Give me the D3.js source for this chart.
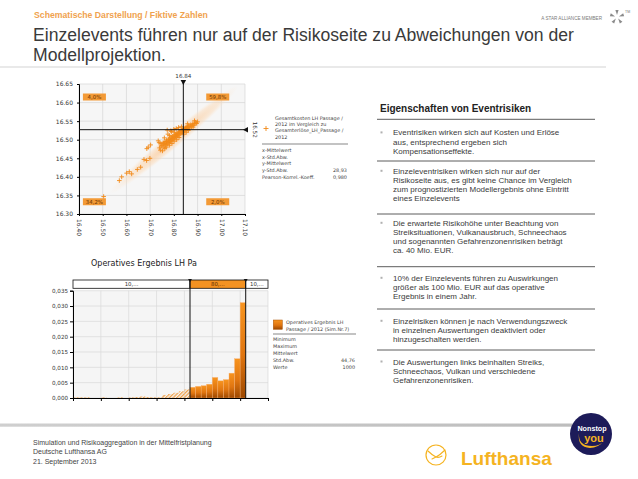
<!DOCTYPE html>
<html><head><meta charset="utf-8">
<script src="https://cdn.jsdelivr.net/npm/d3@7"></script>
<style>body{margin:0;background:#fff}svg{display:block}</style>
</head><body>
<svg id="c" width="638" height="479"></svg>
<script>
// ---------------- DATA ----------------
const subtitle = "Schematische Darstellung / Fiktive Zahlen";
const titleLines = ["Einzelevents führen nur auf der Risikoseite zu Abweichungen von der", "Modellprojektion."];
const footerLines = ["Simulation und Risikoaggregation in der Mittelfristplanung", "Deutsche Lufthansa AG", "21. September 2013"];

const scatterXTicks = [16.40, 16.50, 16.60, 16.70, 16.80, 16.90, 17.00, 17.10];
const scatterYTicks = [16.30, 16.35, 16.40, 16.45, 16.50, 16.55, 16.60, 16.65];
const scatterPoints = [
  [16.504,16.347],[16.570,16.390],[16.580,16.400],[16.601,16.410],[16.612,16.414],[16.622,16.408],
  [16.646,16.420],[16.660,16.426],[16.674,16.447],[16.685,16.444],[16.699,16.450],[16.692,16.480],
  [16.702,16.486],[16.686,16.476],[16.734,16.497],[16.743,16.472],[16.746,16.483],[16.755,16.488],
  [16.769,16.495],[16.772,16.526],[16.787,16.524],[16.740,16.478],[16.752,16.470],[16.745,16.490],
  [16.738,16.492],[16.760,16.505],[16.775,16.515],[16.790,16.522],[16.800,16.528],[16.810,16.530],
  [16.820,16.533],
  [16.750,16.484],[16.755,16.492],[16.758,16.480],[16.760,16.489],[16.763,16.495],[16.765,16.486],
  [16.768,16.491],[16.770,16.499],[16.772,16.488],[16.775,16.494],[16.777,16.501],[16.779,16.492],
  [16.781,16.497],[16.783,16.504],[16.785,16.495],[16.787,16.500],[16.789,16.507],[16.791,16.498],
  [16.793,16.503],[16.795,16.509],[16.797,16.501],[16.799,16.506],[16.801,16.512],[16.803,16.504],
  [16.805,16.509],[16.807,16.514],[16.809,16.507],[16.811,16.512],[16.813,16.517],[16.815,16.510],
  [16.817,16.515],[16.819,16.520],[16.821,16.513],[16.823,16.518],[16.825,16.522],[16.827,16.516],
  [16.829,16.521],[16.831,16.525],[16.833,16.518],[16.835,16.523],[16.837,16.527],[16.839,16.521],
  [16.841,16.526],[16.843,16.530],[16.845,16.524],[16.847,16.528],[16.849,16.532],[16.851,16.527],
  [16.853,16.531],[16.855,16.535],[16.857,16.529],[16.859,16.533],[16.862,16.537],[16.865,16.532],
  [16.868,16.536],[16.871,16.540],[16.874,16.535],[16.877,16.539],[16.880,16.543],[16.884,16.539],
  [16.888,16.543],[16.892,16.547],[16.896,16.544],[16.900,16.548],
  [16.762,16.476],[16.781,16.485],[16.801,16.496],[16.822,16.506],[16.842,16.515],[16.861,16.525],
  [16.881,16.534],[16.782,16.511],[16.802,16.520],[16.832,16.535],[16.858,16.543],[16.887,16.551],
  [16.768,16.480],[16.792,16.490],[16.812,16.500],[16.852,16.520]
];
const markerX = 16.84, markerY = 16.527;
const markerLabels = ["16.84", "16.52"];
const quadrantLabels = ["4,0%", "59,8%", "34,2%", "2,0%"];   // TL, TR, BL, BR
const scatterLegendTitle = ["Gesamtkosten LH Passage /", "2012 im Vergleich zu", "Gesamterlöse_LH_Passage /", "2012"];
const scatterStatNames = ["x-Mittelwert", "x-Std.Abw.", "y-Mittelwert", "y-Std.Abw.", "Pearson-Korrel.-Koeff."];
const scatterStatValues = ["", "", "", "28,93", "0,980"];

const histTitle = "Operatives Ergebnis LH Pa";
const histValues = [
  0.0002,0.0002,0.0002,0,0,0.0002,0,0,0.0002,0,0.0002,0.0003,0.0005,0.0003,0.0002,0.0002,
  0.0010,0.0013,0.0017,0.0022,0.0028,
  0.0035,0.0038,0.0040,0.0045,0.0067,0.0056,0.0060,0.0081,0.0128,0.0311,
  0,0,0,0
];
const histYTicks = [0, 0.005, 0.010, 0.015, 0.020, 0.025, 0.030, 0.035];
const histXTicks = [0, 5, 10, 15, 20, 25, 30, 35];
const histBandEdges = [0, 21, 31, 35];
const histBandLabels = ["10,...", "80,...", "10,..."];
const histLegendTitle = ["Operatives Ergebnis LH", "Passage / 2012 (Sim.Nr.7)"];
const histStatNames = ["Minimum", "Maximum", "Mittelwert", "Std.Abw.", "Werte"];
const histStatValues = ["", "", "", "44,76", "1000"];

const panelHeading = "Eigenschaften von Eventrisiken";
const bullets = [
  ["Eventrisiken wirken sich auf Kosten und Erlöse", "aus, entsprechend ergeben sich", "Kompensationseffekte."],
  ["Einzeleventrisiken wirken sich nur auf der", "Risikoseite aus, es gibt keine Chance im Vergleich", "zum prognostizierten Modellergebnis ohne Eintritt", "eines Einzelevents"],
  ["Die erwartete Risikohöhe unter Beachtung von", "Streiksituationen, Vulkanausbruch, Schneechaos", "und sogenannten Gefahrenzonenrisiken beträgt", "ca. 40 Mio. EUR."],
  ["10% der Einzelevents führen zu Auswirkungen", "größer als 100 Mio. EUR auf das operative", "Ergebnis in einem Jahr."],
  ["Einzelrisiken können je nach Verwendungszweck", "in einzelnen Auswertungen deaktiviert oder", "hinzugeschalten werden."],
  ["Die Auswertungen links beinhalten Streiks,", "Schneechaos, Vulkan und verschiedene", "Gefahrenzonenrisiken."]
];

// ---------------- DRAW ----------------
const svg = d3.select("#c");
const SANS = "'Liberation Sans', Arial, sans-serif";
const CHART = "'DejaVu Sans', Verdana, sans-serif";
const ORANGE = "#f28a1a";
const defs = svg.append("defs");

// header
svg.append("text").attr("x", 34).attr("y", 18).attr("font-family", SANS).attr("font-weight", "bold")
  .attr("font-size", 8.7).attr("fill", "#f0a24e").text(subtitle);
svg.selectAll("text.title").data(titleLines).join("text").attr("class", "title")
  .attr("x", 33).attr("y", (d, i) => 41 + i * 20).attr("font-family", SANS).attr("font-size", 17.6)
  .attr("fill", "#3a3a3a").text(d => d);
svg.append("line").attr("x1", 0).attr("x2", 606).attr("y1", 67).attr("y2", 67).attr("stroke", "#c8c8c8").attr("stroke-width", 0.8);

// star alliance
svg.append("text").attr("x", 602).attr("y", 19.5).attr("text-anchor", "end").attr("font-family", SANS)
  .attr("font-size", 4.6).attr("fill", "#7a7a7a").text("A STAR ALLIANCE MEMBER");
const star = svg.append("g").attr("transform", "translate(617,17)");
d3.range(5).forEach(i => {
  star.append("path").attr("d", "M0,-2 L-1.6,-7 L1.6,-7 Z").attr("fill", "#8a8a8a")
    .attr("transform", `rotate(${i * 72})`);
});
svg.append("text").attr("x", 625).attr("y", 13).attr("font-family", SANS).attr("font-size", 3.5).attr("fill", "#777").text("TM");

// ---------------- SCATTER ----------------
const sx = d3.scaleLinear().domain([16.40, 17.10]).range([79, 245]);
const sy = d3.scaleLinear().domain([16.30, 16.65]).range([214, 84]);
const sg = svg.append("g");
sg.append("rect").attr("x", sx(16.40)).attr("y", sy(16.65)).attr("width", sx(17.10) - sx(16.40))
  .attr("height", sy(16.30) - sy(16.65)).attr("fill", "#f6f6f6");
sg.selectAll("line.gx").data(scatterXTicks).join("line").attr("x1", d => sx(d)).attr("x2", d => sx(d))
  .attr("y1", sy(16.30)).attr("y2", sy(16.65)).attr("stroke", "#d6d6d6").attr("stroke-width", 0.7);
sg.selectAll("line.gy").data(scatterYTicks).join("line").attr("y1", d => sy(d)).attr("y2", d => sy(d))
  .attr("x1", sx(16.40)).attr("x2", sx(17.10)).attr("stroke", "#d6d6d6").attr("stroke-width", 0.7);

// faint density band
const rg = defs.append("radialGradient").attr("id", "band");
rg.append("stop").attr("offset", "0%").attr("stop-color", "#fbc58f").attr("stop-opacity", 0.8);
rg.append("stop").attr("offset", "70%").attr("stop-color", "#fcd9b5").attr("stop-opacity", 0.45);
rg.append("stop").attr("offset", "100%").attr("stop-color", "#fde8d3").attr("stop-opacity", 0);
const cx0 = sx(16.80), cy0 = sy(16.50);
sg.append("ellipse").attr("cx", cx0).attr("cy", cy0).attr("rx", 84).attr("ry", 8)
  .attr("transform", `rotate(-40,${cx0},${cy0})`).attr("fill", "url(#band)");

// points
sg.selectAll("path.pt").data(scatterPoints).join("path").attr("class", "pt")
  .attr("d", d => `M${sx(d[0]) - 2.3},${sy(d[1])}h4.6M${sx(d[0])},${sy(d[1]) - 2.3}v4.6`)
  .attr("stroke", ORANGE).attr("stroke-width", 0.9);

// axes
const xAx = sg.append("g").attr("transform", `translate(0,${sy(16.30)})`)
  .call(d3.axisBottom(sx).tickValues(scatterXTicks).tickSize(2).tickFormat(d3.format(".2f")));
xAx.selectAll("text").attr("transform", "rotate(90)").attr("text-anchor", "start")
  .attr("x", 5).attr("y", 0).attr("dy", "0.35em");
const yAx = sg.append("g").attr("transform", `translate(${sx(16.40)},0)`)
  .call(d3.axisLeft(sy).tickValues(scatterYTicks).tickSize(2).tickFormat(d3.format(".2f")));
[xAx, yAx].forEach(a => {
  a.selectAll("text").attr("font-family", CHART).attr("font-size", 6).attr("fill", "#333");
  a.select(".domain").attr("stroke", "#000").attr("stroke-width", 1);
  a.selectAll(".tick line").attr("stroke", "#000");
});
yAx.selectAll("text").attr("x", -6);

// marker lines
sg.append("line").attr("x1", sx(markerX)).attr("x2", sx(markerX)).attr("y1", sy(16.65) - 3).attr("y2", sy(16.30))
  .attr("stroke", "#111").attr("stroke-width", 1);
sg.append("line").attr("y1", sy(markerY)).attr("y2", sy(markerY)).attr("x1", sx(16.40)).attr("x2", sx(17.10) + 2)
  .attr("stroke", "#111").attr("stroke-width", 1);
sg.append("path").attr("d", `M${sx(markerX) - 2.8},${sy(16.65) - 4}h5.6l-2.8,5z`).attr("fill", "#111");
sg.append("path").attr("d", `M${sx(17.10) + 3},${sy(markerY) - 2.8}v5.6l-5,-2.8z`).attr("fill", "#111");
sg.append("text").attr("x", sx(markerX)).attr("y", sy(16.65) - 6).attr("text-anchor", "middle")
  .attr("font-family", CHART).attr("font-size", 5.6).attr("fill", "#333").text(markerLabels[0]);
sg.append("text").attr("transform", `translate(${sx(17.10) + 7},${sy(markerY)}) rotate(90)`)
  .attr("text-anchor", "middle").attr("dy", "-0.1em").attr("font-family", CHART).attr("font-size", 5.6)
  .attr("fill", "#333").text(markerLabels[1]);

// quadrant labels
const qPos = [[16.465, 16.615], [16.985, 16.615], [16.465, 16.333], [16.985, 16.333]];
quadrantLabels.forEach((t, i) => {
  const px = sx(qPos[i][0]), py = sy(qPos[i][1]);
  sg.append("rect").attr("x", px - 11.5).attr("y", py - 3.5).attr("width", 23).attr("height", 7).attr("fill", "#f39a36");
  sg.append("text").attr("x", px).attr("y", py + 2).attr("text-anchor", "middle").attr("font-family", CHART)
    .attr("font-size", 5.4).attr("fill", "#6a3300").text(t);
});

// scatter legend
sg.append("path").attr("d", "M263.5,128.5h5M266,126v5").attr("stroke", ORANGE).attr("stroke-width", 0.9);
sg.selectAll("text.slt").data(scatterLegendTitle).join("text").attr("class", "slt")
  .attr("x", 275).attr("y", (d, i) => 119.5 + i * 6.4).attr("font-family", CHART).attr("font-size", 4.9)
  .attr("fill", "#444").text(d => d);
sg.append("line").attr("x1", 262).attr("x2", 348).attr("y1", 144).attr("y2", 144).attr("stroke", "#555").attr("stroke-width", 0.7);
scatterStatNames.forEach((n, i) => {
  const y = 151.8 + i * 6.8;
  sg.append("text").attr("x", 262).attr("y", y).attr("font-family", CHART).attr("font-size", 4.9).attr("fill", "#444").text(n);
  sg.append("text").attr("x", 347).attr("y", y).attr("text-anchor", "end").attr("font-family", CHART)
    .attr("font-size", 4.9).attr("fill", "#444").text(scatterStatValues[i]);
});

// ---------------- HISTOGRAM ----------------
const hx = d3.scaleLinear().domain([0, 35]).range([73, 268]);
const hy = d3.scaleLinear().domain([0, 0.035]).range([398, 290.7]);
const hg = svg.append("g");
hg.append("text").attr("x", 91).attr("y", 266).attr("font-family", CHART).attr("font-size", 8)
  .attr("fill", "#222").text(histTitle);
hg.append("rect").attr("x", hx(0)).attr("y", hy(0.035)).attr("width", hx(35) - hx(0)).attr("height", hy(0) - hy(0.035)).attr("fill", "#f5f5f5");
hg.selectAll("line.hgy").data(histYTicks).join("line").attr("x1", hx(0)).attr("x2", hx(35))
  .attr("y1", d => hy(d)).attr("y2", d => hy(d)).attr("stroke", "#d8d8d8").attr("stroke-width", 0.7);
hg.selectAll("line.hgx").data(histXTicks).join("line").attr("y1", hy(0)).attr("y2", hy(0.035))
  .attr("x1", d => hx(d)).attr("x2", d => hx(d)).attr("stroke", "#d8d8d8").attr("stroke-width", 0.7);

const hatch = defs.append("pattern").attr("id", "hatch").attr("patternUnits", "userSpaceOnUse")
  .attr("width", 2.6).attr("height", 2.6).attr("patternTransform", "rotate(45)");
hatch.append("rect").attr("width", 1.3).attr("height", 2.6).attr("fill", "#f0a14a");
const bg = defs.append("linearGradient").attr("id", "barg").attr("x1", 0).attr("y1", 0).attr("x2", 0).attr("y2", 1);
bg.append("stop").attr("offset", "0%").attr("stop-color", "#f7941f");
bg.append("stop").attr("offset", "55%").attr("stop-color", "#e07510");
bg.append("stop").attr("offset", "100%").attr("stop-color", "#9d4800");

hg.selectAll("rect.bar").data(histValues).join("rect").attr("class", "bar")
  .attr("x", (d, i) => hx(i)).attr("width", hx(1) - hx(0)).attr("y", d => hy(d)).attr("height", d => hy(0) - hy(d))
  .attr("fill", (d, i) => (i >= histBandEdges[1] && i < histBandEdges[2]) ? "url(#barg)" : "url(#hatch)")
  .attr("stroke", (d, i) => (i >= histBandEdges[1] && i < histBandEdges[2]) ? "#f7b070" : "none")
  .attr("stroke-width", 0.4);

const hyAx = hg.append("g").attr("transform", `translate(${hx(0)},0)`)
  .call(d3.axisLeft(hy).tickValues(histYTicks).tickSize(3).tickFormat(d => d3.format(".3f")(d).replace(".", ",")));
const hxAx = hg.append("g").attr("transform", `translate(0,${hy(0)})`)
  .call(d3.axisBottom(hx).tickValues(histXTicks).tickSize(3).tickFormat(""));
[hyAx, hxAx].forEach(a => {
  a.selectAll("text").attr("font-family", CHART).attr("font-size", 5.6).attr("fill", "#333");
  a.select(".domain").attr("stroke", "#000").attr("stroke-width", 1);
  a.selectAll(".tick line").attr("stroke", "#000");
});
hyAx.selectAll("text").attr("x", -5);

// band header
const bandTop = 280, bandBot = 288.3;
histBandLabels.forEach((t, i) => {
  const x0 = hx(histBandEdges[i]), x1 = hx(histBandEdges[i + 1]);
  hg.append("rect").attr("x", x0).attr("y", bandTop).attr("width", x1 - x0).attr("height", bandBot - bandTop)
    .attr("fill", i === 1 ? "#f39222" : "#fff").attr("stroke", "#111").attr("stroke-width", 0.8);
  hg.append("text").attr("x", (x0 + x1) / 2).attr("y", bandBot - 2.2).attr("text-anchor", "middle")
    .attr("font-family", CHART).attr("font-size", 5.4).attr("fill", i === 1 ? "#5a2a00" : "#333").text(t);
});
[histBandEdges[1], histBandEdges[2]].forEach(e => {
  hg.append("line").attr("x1", hx(e)).attr("x2", hx(e)).attr("y1", bandTop).attr("y2", hy(0)).attr("stroke", "#111").attr("stroke-width", 1);
  hg.append("path").attr("d", `M${hx(e) - 2},${bandTop - 1}h4l-2,3z`).attr("fill", "#111");
});

// hist legend
hg.append("rect").attr("x", 273.3).attr("y", 320).attr("width", 9).attr("height", 9.3).attr("fill", "url(#barg)").attr("stroke", "#a85000").attr("stroke-width", 0.5);
hg.selectAll("text.hlt").data(histLegendTitle).join("text").attr("class", "hlt")
  .attr("x", 286).attr("y", (d, i) => 324 + i * 7.3).attr("font-family", CHART).attr("font-size", 4.9)
  .attr("fill", "#444").text(d => d);
hg.append("line").attr("x1", 273).attr("x2", 356).attr("y1", 334).attr("y2", 334).attr("stroke", "#555").attr("stroke-width", 0.7);
histStatNames.forEach((n, i) => {
  const y = 341.3 + i * 7;
  hg.append("text").attr("x", 273).attr("y", y).attr("font-family", CHART).attr("font-size", 4.9).attr("fill", "#444").text(n);
  hg.append("text").attr("x", 355).attr("y", y).attr("text-anchor", "end").attr("font-family", CHART)
    .attr("font-size", 4.9).attr("fill", "#444").text(histStatValues[i]);
});

// ---------------- RIGHT PANEL ----------------
const rp = svg.append("g");
rp.append("text").attr("x", 380).attr("y", 111.5).attr("font-family", SANS).attr("font-weight", "bold")
  .attr("font-size", 10).attr("fill", "#222").text(panelHeading);
const sepY = [119.3, 161, 214, 266.7, 309, 350];
const firstLine = [132.6, 171, 223, 278, 321, 361.7];
sepY.forEach(y => rp.append("line").attr("x1", 377).attr("x2", 595).attr("y1", y).attr("y2", y)
  .attr("stroke", "#333").attr("stroke-width", 0.8));
bullets.forEach((lines, b) => {
  rp.append("rect").attr("x", 380.5).attr("y", firstLine[b] - 1.2).attr("width", 2).attr("height", 2).attr("fill", "#b0b0b0");
  lines.forEach((l, i) => {
    rp.append("text").attr("x", 393).attr("y", firstLine[b] + 2.8 + i * 9.2).attr("font-family", SANS)
      .attr("font-size", 8).attr("fill", "#3a3a3a").text(l);
  });
});

// ---------------- FOOTER ----------------
const fg = defs.append("linearGradient").attr("id", "fline").attr("x1", 0).attr("x2", 1);
fg.append("stop").attr("offset", "0%").attr("stop-color", "#cfcfcf");
fg.append("stop").attr("offset", "100%").attr("stop-color", "#bdbdbd");
svg.append("rect").attr("x", 0).attr("y", 423.5).attr("width", 575).attr("height", 3.2).attr("fill", "url(#fline)");
svg.selectAll("text.foot").data(footerLines).join("text").attr("class", "foot")
  .attr("x", 33).attr("y", (d, i) => 445 + i * 9.3).attr("font-family", SANS).attr("font-size", 7)
  .attr("fill", "#444").text(d => d);

// Lufthansa logo
const LH = "#f5b321";
svg.append("circle").attr("cx", 436).attr("cy", 455).attr("r", 10).attr("fill", "none").attr("stroke", LH).attr("stroke-width", 1.2);
svg.append("path").attr("d", "M428,451 Q432,455 436,457 Q440,455 445,450 M436,457 L432,459 M436,457 Q439,458 442,456")
  .attr("fill", "none").attr("stroke", LH).attr("stroke-width", 1.1).attr("stroke-linecap", "round");
svg.append("text").attr("x", 461).attr("y", 465).attr("font-family", SANS).attr("font-weight", "bold")
  .attr("font-size", 19).attr("fill", LH).text("Lufthansa");

// Nonstop you
svg.append("circle").attr("cx", 591).attr("cy", 434).attr("r", 21).attr("fill", "#1d1b59");
svg.append("text").attr("x", 592).attr("y", 431).attr("text-anchor", "middle").attr("font-family", SANS)
  .attr("font-weight", "bold").attr("font-size", 7.2).attr("fill", "#fff").text("Nonstop");
svg.append("text").attr("x", 594).attr("y", 441.5).attr("text-anchor", "middle").attr("font-family", SANS)
  .attr("font-weight", "bold").attr("font-size", 11).attr("fill", LH).text("you");
svg.append("path").attr("d", "M579,433 Q578,446 592,446 Q600,446 604,441 Q598,448 590,448 Q577,447 579,433 Z").attr("fill", LH);
</script>
</body></html>
